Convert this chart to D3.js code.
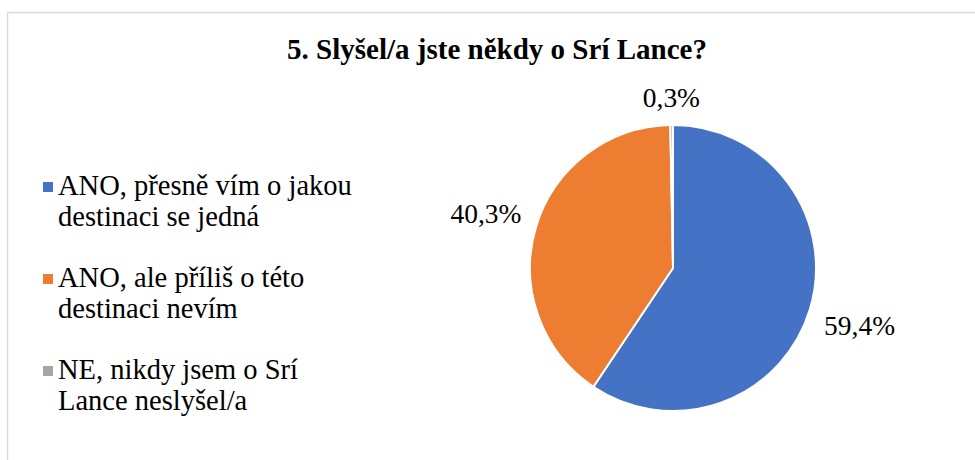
<!DOCTYPE html>
<html><head>
<meta charset="utf-8">
<title>Slyšel/a jste někdy o Srí Lance?</title>
<script src="https://d3js.org/d3.v7.min.js"></script>
<style>
  body { margin: 0; background: #fff; }
  svg text { font-family: "Liberation Serif", "Times New Roman", serif; fill: #000; }
  .title { font-weight: bold; font-size: 28px; }
  .legend text { font-size: 28px; }
  .pct { font-size: 27.5px; }
</style>
</head>
<body>
<svg id="chart" width="975" height="460"></svg>
<script>

// data
const categories = [
  ["ANO, přesně vím o jakou", "destinaci se jedná"],
  ["ANO, ale příliš o této", "destinaci nevím"],
  ["NE, nikdy jsem o Srí", "Lance neslyšel/a"]
];
const values = [59.4, 40.3, 0.3];
const labels = ["59,4%", "40,3%", "0,3%"];
const colors = ["#4472C4", "#ED7D31", "#A5A5A5"];
const titleText = "5. Slyšel/a jste někdy o Srí Lance?";

const svg = d3.select("#chart");

// scale a font so that a text node gets the width seen in the reference
function fitSize(sel, targetWidth) {
  const node = sel.node();
  const size = parseFloat(getComputedStyle(node).fontSize);
  const w = node.getComputedTextLength();
  return size * targetWidth / w;
}

// chart area frame
svg.append("rect")
  .attr("x", 7.5).attr("y", 12.5)
  .attr("width", 1000).attr("height", 500)
  .attr("fill", "none")
  .attr("stroke", "#d9d9d9")
  .attr("stroke-width", 1.5);

const title = svg.append("text")
  .attr("class", "title")
  .attr("x", 497).attr("y", 59)
  .attr("text-anchor", "middle")
  .text(titleText);
title.style("font-size", fitSize(title, 420) + "px");

// pie
const cx = 673, cy = 268, r = 143;
const pie = d3.pie().sort(null).value(d => d).startAngle(0).endAngle(2 * Math.PI);
const arcs = pie(values);
const arc = d3.arc().innerRadius(0).outerRadius(r);

const g = svg.append("g").attr("transform", "translate(" + cx + "," + cy + ")");

g.selectAll("path")
  .data(arcs)
  .join("path")
  .attr("d", arc)
  .attr("fill", (d, i) => colors[i])
  .attr("stroke", "#fff")
  .attr("stroke-width", 2);

// labels outside, small slices sit closer
const pct = g.selectAll("text.pct")
  .data(arcs)
  .join("text")
  .attr("class", "pct")
  .attr("text-anchor", "middle")
  .attr("transform", d => {
    const lr = d.value < 1 ? r + 28 : r + 52;
    const c = d3.arc().innerRadius(lr).outerRadius(lr).centroid(d);
    return "translate(" + c[0] + "," + (c[1] + 10) + ")";
  })
  .text((d, i) => labels[i]);
pct.style("font-size", fitSize(pct.filter((d, i) => i === 0), 71) + "px");

// legend
const legendY = d3.scalePoint().domain(d3.range(categories.length)).range([195, 379]);
const legend = svg.append("g").attr("class", "legend");
const item = legend.selectAll("g")
  .data(categories)
  .join("g")
  .attr("transform", (d, i) => "translate(0," + legendY(i) + ")");

item.append("rect")
  .attr("x", 43).attr("y", -13)
  .attr("width", 10).attr("height", 10)
  .attr("fill", (d, i) => colors[i]);

const lines = item.append("text")
  .attr("x", 58)
  .selectAll("tspan")
  .data(d => d)
  .join("tspan")
  .attr("x", 58)
  .attr("y", (d, j) => j * 31)
  .text(d => d);
legend.selectAll("text").style("font-size", fitSize(lines.filter(d => d === categories[0][0]), 294) + "px");

</script>
</body>
</html>
